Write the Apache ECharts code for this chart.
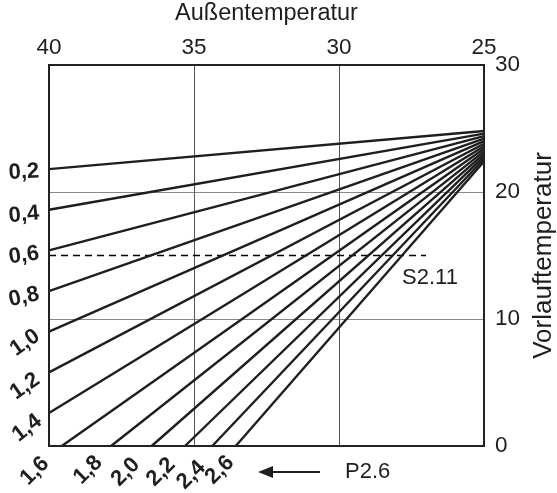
<!DOCTYPE html>
<html>
<head>
<meta charset="utf-8">
<script src="https://cdn.jsdelivr.net/npm/echarts@6/dist/echarts.min.js"></script>
<style>html,body{margin:0;padding:0;background:#fff}#c{width:557px;height:493px}</style>
</head>
<body>
<div id="c"></div>
<script>
// ---- data ----
const curveNames = ['0,2','0,4','0,6','0,8','1,0','1,2','1,4','1,6','1,8','2,0','2,2','2,4','2,6'];
// flow temperature at outdoor temperature 25 (right edge)
const flowAt25 = [24.8,24.6,24.4,24.2,24.0,23.8,23.6,23.4,23.2,23.0,22.8,22.6,22.4];
// start point (outdoor temperature, flow temperature) at the left/bottom frame
const startTemp = [40,40,40,40,40,40,40,39.56,37.86,36.46,35.31,34.37,33.56];
const startFlow = [21.8,18.6,15.4,12.2,9.0,5.8,2.6,0,0,0,0,0,0];
// dashed reference line S2.11
const refLineTemp = [40, 27];
const refLineFlow = [15, 15];
const xTicks = [25, 30, 35, 40];
const yTicks = [0, 10, 20, 30];

// ---- label styling (layout only) ----
const labelRotate = [3,5,8,12,35,35,38,45,45,45,45,45,45];
const labelOffset = [[-25,3],[-25,5],[-25,5],[-25,6],[-24,11],[-24,14],[-22,15],
                     [-27,25],[-23,24],[-26,26],[-24,26],[-21,29],[-16,24]];
// ECharts rotates the offset together with the label: pre-rotate it back
function unrotate(off, deg) {
  const t = deg * Math.PI / 180, c = Math.cos(t), s = Math.sin(t);
  return [off[0] * c - off[1] * s, off[0] * s + off[1] * c];
}

const FONT = '"Liberation Sans", Arial, Helvetica, sans-serif';
const INK = '#1e1e1e';

const series = curveNames.map((nm, i) => ({
  type: 'line',
  clip: false,
  symbol: 'circle',
  symbolSize: 0.1,
  itemStyle: {color: 'rgba(0,0,0,0)'},
  lineStyle: {color: INK, width: 2.4},
  silent: true,
  z: 3,
  data: [
    {value: [startTemp[i], startFlow[i]],
     label: {show: true, formatter: nm, position: 'inside', align: 'center', verticalAlign: 'middle',
             offset: unrotate(labelOffset[i], labelRotate[i]), rotate: labelRotate[i],
             fontFamily: FONT, fontWeight: 'bold', fontSize: 22, color: INK}},
    {value: [25, flowAt25[i]]}
  ]
}));

series.push({
  type: 'line',
  clip: false,
  symbol: 'circle',
  symbolSize: 0.1,
  itemStyle: {color: 'rgba(0,0,0,0)'},
  lineStyle: {color: '#000', width: 1.5, type: [7, 5]},
  silent: true,
  z: 2,
  data: [
    {value: [refLineTemp[0], refLineFlow[0]]},
    {value: [refLineTemp[1], refLineFlow[1]],
     label: {show: true, formatter: 'S2.11', position: 'inside', align: 'center', verticalAlign: 'middle',
             offset: [4, 22], fontFamily: FONT, fontSize: 22, color: INK}}
  ]
});

const chart = echarts.init(document.getElementById('c'), null, {renderer: 'canvas'});
chart.setOption({
  animation: false,
  backgroundColor: '#fff',
  grid: {left: 49, right: 73, top: 65, bottom: 47, containLabel: false, outerBoundsMode: 'none',
         show: true, borderColor: '#222', borderWidth: 2, backgroundColor: 'transparent', z: 5},
  xAxis: {
    type: 'value', position: 'top', inverse: true,
    min: xTicks[0], max: xTicks[xTicks.length - 1], interval: 5,
    name: 'Außentemperatur', nameLocation: 'middle', nameGap: 39,
    nameTextStyle: {fontFamily: FONT, fontSize: 23.5, color: INK},
    axisLine: {show: false}, axisTick: {show: false},
    axisLabel: {margin: 6, fontFamily: FONT, fontSize: 22.5, color: INK},
    splitLine: {show: true, showMinLine: false, showMaxLine: false, lineStyle: {color: '#555', width: 1}}
  },
  yAxis: {
    type: 'value', position: 'right',
    min: yTicks[0], max: yTicks[yTicks.length - 1], interval: 10,
    name: 'Vorlauftemperatur', nameLocation: 'middle', nameRotate: 90, nameGap: 47,
    nameTextStyle: {fontFamily: FONT, fontSize: 26, color: INK},
    axisLine: {show: false}, axisTick: {show: false},
    axisLabel: {margin: 11, fontFamily: FONT, fontSize: 22.5, color: INK},
    splitLine: {show: true, showMinLine: false, showMaxLine: false, lineStyle: {color: '#888', width: 1}}
  },
  graphic: [
    {type: 'line', shape: {x1: 266, y1: 472, x2: 320, y2: 472}, style: {stroke: INK, lineWidth: 2}},
    {type: 'polygon', shape: {points: [[258, 472], [273, 466], [273, 478]]}, style: {fill: INK}},
    {type: 'text', left: 345, top: 461, style: {text: 'P2.6', font: '22px ' + FONT, fill: INK}}
  ],
  series: series
});
</script>
</body>
</html>
